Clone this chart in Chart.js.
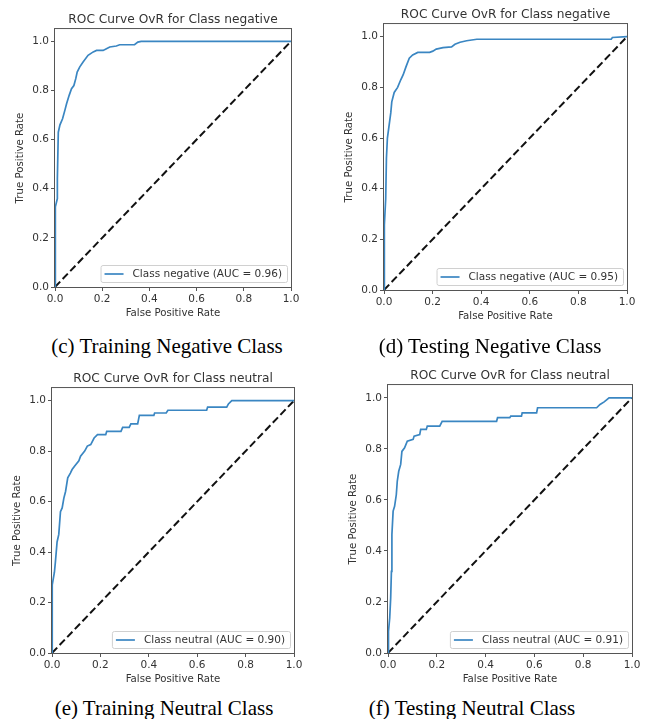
<!DOCTYPE html>
<html>
<head>
<meta charset="utf-8">
<script src="https://cdn.jsdelivr.net/npm/chart.js@4.4.0/dist/chart.umd.min.js"></script>
<style>
  body { margin: 0; background: #fff; width: 646px; height: 719px; position: relative; overflow: hidden; }
  canvas { position: absolute; }
  .cap { position: absolute; font-family: 'Liberation Serif', 'Times New Roman', serif; font-size: 21px;
         line-height: 24px; color: #000; white-space: nowrap; transform: translateX(-50%); }
</style>
</head>
<body>
<canvas id="c1"></canvas>
<canvas id="c2"></canvas>
<canvas id="c3"></canvas>
<canvas id="c4"></canvas>
<div class="cap" style="left:167px; top:334px">(c) Training Negative Class</div>
<div class="cap" style="left:490px; top:334px">(d) Testing Negative Class</div>
<div class="cap" style="left:164px; top:696px">(e) Training Neutral Class</div>
<div class="cap" style="left:472px; top:696px">(f) Testing Neutral Class</div>
<script>
// tick values shared by both axes
const tickVals = [0, 0.2, 0.4, 0.6, 0.8, 1.0];

// (c) training, negative class
const trainNegFpr = [0, 0, 0.003, 0.01, 0.01, 0.014, 0.021, 0.032, 0.042, 0.049, 0.06, 0.07, 0.08, 0.088, 0.094,
  0.105, 0.119, 0.14, 0.162, 0.176, 0.204, 0.218, 0.232, 0.26, 0.274, 0.337, 0.351, 0.365, 1.0];
const trainNegTpr = [0, 0.237, 0.326, 0.36, 0.44, 0.63, 0.66, 0.685, 0.72, 0.746, 0.78, 0.807, 0.82, 0.848, 0.875,
  0.896, 0.916, 0.943, 0.957, 0.963, 0.963, 0.97, 0.977, 0.981, 0.986, 0.986, 0.997, 1.0, 1.0];

// (d) testing, negative class
const testNegFpr = [0, 0, 0.003, 0.007, 0.01, 0.014, 0.021, 0.028, 0.032, 0.042, 0.056, 0.069, 0.079, 0.09, 0.104,
  0.118, 0.139, 0.188, 0.201, 0.215, 0.243, 0.278, 0.292, 0.313, 0.34, 0.382, 0.935, 0.94, 1.0];
const testNegTpr = [0, 0.164, 0.257, 0.36, 0.52, 0.6, 0.65, 0.70, 0.743, 0.78, 0.80, 0.83, 0.85, 0.88, 0.915,
  0.928, 0.938, 0.938, 0.943, 0.951, 0.957, 0.96, 0.97, 0.978, 0.984, 0.99, 0.99, 0.997, 1.0];

// (e) training, neutral class
const trainNeuFpr = [0, 0, 0, 0.003, 0.01, 0.014, 0.021, 0.028, 0.035, 0.042, 0.049, 0.056, 0.065, 0.076, 0.083,
  0.093, 0.111, 0.118, 0.135, 0.146, 0.16, 0.174, 0.188, 0.222, 0.226, 0.285, 0.292, 0.319, 0.326, 0.354,
  0.361, 0.421, 0.424, 0.472, 0.479, 0.639, 0.643, 0.722, 0.729, 0.743, 1.0];
const trainNeuTpr = [0, 0.099, 0.15, 0.27, 0.32, 0.36, 0.44, 0.47, 0.56, 0.575, 0.614, 0.64, 0.694, 0.713, 0.727,
  0.74, 0.762, 0.78, 0.80, 0.82, 0.826, 0.852, 0.865, 0.865, 0.878, 0.878, 0.894, 0.894, 0.908, 0.908,
  0.942, 0.942, 0.951, 0.951, 0.962, 0.962, 0.974, 0.974, 0.987, 1.0, 1.0];

// (f) testing, neutral class
const testNeuFpr = [0, 0, 0.004, 0.007, 0.011, 0.014, 0.016, 0.021, 0.027, 0.034, 0.038, 0.044, 0.052, 0.057,
  0.068, 0.079, 0.103, 0.107, 0.13, 0.134, 0.157, 0.161, 0.212, 0.222, 0.445, 0.449, 0.499, 0.503, 0.547,
  0.55, 0.609, 0.613, 0.855, 0.869, 0.886, 0.906, 1.0];
const testNeuTpr = [0, 0.059, 0.085, 0.137, 0.216, 0.32, 0.464, 0.556, 0.575, 0.62, 0.673, 0.712, 0.739, 0.79,
  0.804, 0.83, 0.837, 0.85, 0.856, 0.876, 0.876, 0.889, 0.889, 0.908, 0.908, 0.922, 0.922, 0.928, 0.928,
  0.941, 0.941, 0.961, 0.961, 0.974, 0.984, 1.0, 1.0];

const chance = [0, 1];

const BLUE = '#3a86c2';
const TXT = '#333';
const FONT = 'DejaVu Sans';

// box around the plot area, like matplotlib spines
const framePlugin = {
  id: 'frame',
  afterDatasetsDraw(chart) {
    const a = chart.chartArea, ctx = chart.ctx;
    ctx.save();
    ctx.strokeStyle = '#555';
    ctx.lineWidth = 1;
    ctx.strokeRect(a.left - 0.5, a.top - 0.5, a.right - a.left + 1, a.bottom - a.top + 1);
    ctx.restore();
  }
};

// legend drawn inside the axes, lower right
const innerLegend = {
  id: 'innerLegend',
  afterDraw(chart) {
    const a = chart.chartArea, ctx = chart.ctx;
    const ds = chart.data.datasets[0];
    ctx.save();
    ctx.font = '10.5px ' + FONT;
    const tw = ctx.measureText(ds.label).width;
    const w = 4 + 19 + 9 + tw + 5, h = 17;
    const x = a.right - 4 - w, y = a.bottom - 5 - h;
    ctx.fillStyle = 'rgba(255,255,255,0.85)';
    ctx.strokeStyle = '#d0d0d0';
    ctx.lineWidth = 1;
    ctx.beginPath();
    ctx.roundRect(x + 0.5, y + 0.5, w, h, 2);
    ctx.fill();
    ctx.stroke();
    ctx.strokeStyle = BLUE;
    ctx.lineWidth = 1.7;
    ctx.beginPath();
    ctx.moveTo(x + 4, y + h / 2 + 0.5);
    ctx.lineTo(x + 23, y + h / 2 + 0.5);
    ctx.stroke();
    ctx.fillStyle = TXT;
    ctx.textBaseline = 'middle';
    ctx.fillText(ds.label, x + 32, y + h / 2 + 1);
    ctx.restore();
  }
};

function axis(max, title, isY) {
  return {
    type: 'linear',
    min: 0,
    max: max,
    afterBuildTicks: s => { s.ticks = tickVals.map(v => ({ value: v })); },
    afterFit: s => { if (isY) s.width = 45; else s.height = 33; },
    ticks: {
      color: TXT, padding: 2, maxRotation: 0, autoSkip: false,
      font: { family: FONT, size: 10.5 },
      callback: v => Number(v).toFixed(1)
    },
    grid: { display: true, drawOnChartArea: false, drawTicks: true, tickLength: 4, tickColor: '#555' },
    border: { display: false },
    title: {
      display: true, text: title, color: TXT,
      font: { family: FONT, size: 10.2 },
      padding: isY ? { top: 4, bottom: 0 } : { top: 0, bottom: 0.5 }
    }
  };
}

function makeRoc(id, box, title, label, fpr, tpr) {
  const cv = document.getElementById(id);
  cv.style.left = (box.L - 50) + 'px';
  cv.style.top = (box.T - 28) + 'px';
  cv.width = box.R - box.L + 70;
  cv.height = box.B - box.T + 63;

  new Chart(cv, {
    type: 'line',
    data: {
      datasets: [
        {
          label: label,
          data: fpr.map((x, i) => ({ x: x, y: tpr[i] })),
          borderColor: BLUE, borderWidth: 1.7, pointRadius: 0, tension: 0, fill: false
        },
        {
          label: 'chance',
          data: chance.map(v => ({ x: v, y: v })),
          borderColor: '#111', borderWidth: 2, borderDash: [7.5, 3.5], pointRadius: 0, fill: false
        }
      ]
    },
    options: {
      responsive: false,
      animation: false,
      events: [],
      layout: { padding: { left: 5, right: 20, top: 0, bottom: 2 } },
      scales: {
        x: axis(1, 'False Positive Rate', false),
        y: axis(1.05, 'True Positive Rate', true)
      },
      plugins: {
        legend: { display: false },
        tooltip: { enabled: false },
        title: {
          display: true, fullSize: false, text: title, color: TXT,
          font: { family: FONT, size: 12.2, weight: 'normal', lineHeight: 1.2 },
          padding: { top: 11.4, bottom: 2 }
        }
      }
    },
    plugins: [framePlugin, innerLegend]
  });
}

makeRoc('c1', { L: 55, R: 291, T: 29, B: 287 }, 'ROC Curve OvR for Class negative',
  'Class negative (AUC = 0.96)', trainNegFpr, trainNegTpr);
makeRoc('c2', { L: 384, R: 627, T: 24, B: 290 }, 'ROC Curve OvR for Class negative',
  'Class negative (AUC = 0.95)', testNegFpr, testNegTpr);
makeRoc('c3', { L: 52, R: 294, T: 388, B: 653 }, 'ROC Curve OvR for Class neutral',
  'Class neutral (AUC = 0.90)', trainNeuFpr, trainNeuTpr);
makeRoc('c4', { L: 388, R: 632, T: 385, B: 653 }, 'ROC Curve OvR for Class neutral',
  'Class neutral (AUC = 0.91)', testNeuFpr, testNeuTpr);
</script>
</body>
</html>
